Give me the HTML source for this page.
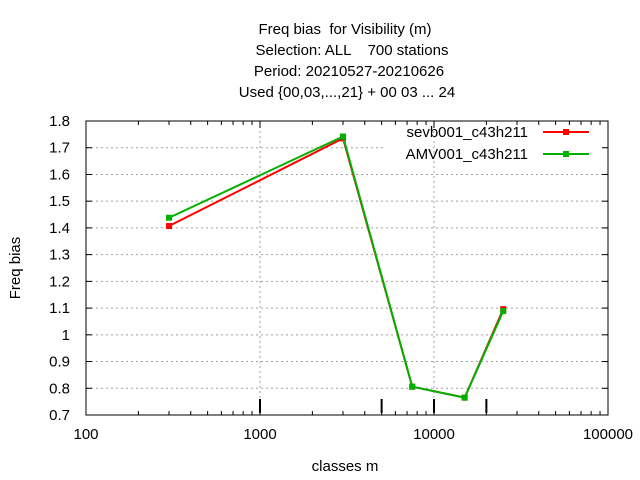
<!DOCTYPE html>
<html><head><meta charset="utf-8"><style>
body{margin:0;background:#fff;}
svg{display:block;font-family:"Liberation Sans",sans-serif;}
text{white-space:pre;}
</style></head><body>
<svg id="chart" width="640" height="480" xmlns="http://www.w3.org/2000/svg" xml:space="preserve">
<rect width="640" height="480" fill="#fff"/>
<g font-size="15" text-anchor="middle" fill="#000">
<text x="345" y="34">Freq bias  for Visibility (m)</text>
<text x="352" y="55">Selection: ALL    700 stations</text>
<text x="349" y="76">Period: 20210527-20210626</text>
<text x="347" y="97">Used {00,03,...,21} + 00 03 ... 24</text>
</g>
<g id="grid"></g>
<g id="axes"></g>
<g id="series"></g>
<text x="345" y="471" font-size="15" text-anchor="middle">classes m</text>
<text transform="translate(20,268) rotate(-90)" font-size="15" text-anchor="middle">Freq bias</text>
</svg>
<script>
const xValues=[300,3000,7500,15000,25000];
const redValues=[1.407,1.735,0.806,0.765,1.096];
const greenValues=[1.438,1.742,0.806,0.765,1.089];
const seriesNames=["sevb001_c43h211","AMV001_c43h211"];
const yTicks=[0.7,0.8,0.9,1,1.1,1.2,1.3,1.4,1.5,1.6,1.7,1.8];
const xTicks=[100,1000,10000,100000];
const classBounds=[1000,5000,10000,20000];
const L=86,R=608,T=121,B=415;
function X(v){return L+(Math.log10(v)-2)/3*(R-L);}
function Y(v){return B-(v-0.7)/1.1*(B-T);}
const NS="http://www.w3.org/2000/svg";
function mk(p,t,a){const e=document.createElementNS(NS,t);for(const k in a)e.setAttribute(k,a[k]);p.appendChild(e);return e;}
const grid=document.getElementById('grid'),axes=document.getElementById('axes'),ser=document.getElementById('series');
yTicks.forEach((v,i)=>{
 const y=Y(v);
 if(i>0&&i<yTicks.length-1){
  const x2=Math.abs(v-1.7)<1e-9?386:R;
  let g=mk(grid,'line',{x1:L,x2:x2,y1:y,y2:y,stroke:'#a0a0a0','stroke-dasharray':'2,3','stroke-width':1});
  
  
 }
 mk(axes,'line',{x1:L,x2:L+6,y1:y,y2:y,stroke:'#000'});
 mk(axes,'line',{x1:R-6,x2:R,y1:y,y2:y,stroke:'#000'});
 let t=mk(axes,'text',{x:70,y:y+5,'font-size':15,'text-anchor':'end'});
 t.textContent=String(v);
 
 
});
xTicks.forEach((v,i)=>{
 const x=X(v);
 if(i>0&&i<xTicks.length-1){
  let g=mk(grid,'line',{x1:x,x2:x,y1:T,y2:B,stroke:'#a0a0a0','stroke-dasharray':'2,3'});
  
  
 }
 let t=mk(axes,'text',{x:x,y:439,'font-size':15,'text-anchor':'middle'});
 t.textContent=String(v);
 
 
 if(i<3)for(let m=2;m<=9;m++){const xm=X(v*m);
  mk(axes,'line',{x1:xm,x2:xm,y1:B-4,y2:B,stroke:'#000'});
  mk(axes,'line',{x1:xm,x2:xm,y1:T,y2:T+4,stroke:'#000'});}
 mk(axes,'line',{x1:x,x2:x,y1:B-7,y2:B,stroke:'#000'});
 mk(axes,'line',{x1:x,x2:x,y1:T,y2:T+7,stroke:'#000'});
});
classBounds.forEach(v=>{const x=X(v);
 let c=mk(axes,'line',{x1:x,x2:x,y1:399,y2:413,stroke:'#000','stroke-width':2});
 
 
});
let box=mk(axes,'rect',{x:L,y:T,width:R-L,height:B-T,fill:'none',stroke:'#000'});


function drawSeries(vals,color,name,ly,label){
 const pts=vals.map((v,i)=>X(xValues[i])+','+Y(v)).join(' ');
 let pl=mk(ser,'polyline',{points:pts,fill:'none',stroke:color,'stroke-width':2});
 
 
 vals.forEach((v,i)=>{let r=mk(ser,'rect',{x:X(xValues[i])-3,y:Y(v)-3,width:6,height:6,fill:color});
  
  });
 let t=mk(ser,'text',{x:528,y:ly+5,'font-size':15,'text-anchor':'end'});
 t.textContent=label;
 
 
 let ll=mk(ser,'line',{x1:543,x2:589,y1:ly,y2:ly,stroke:color,'stroke-width':2});
 
 
 mk(ser,'rect',{x:563,y:ly-3,width:6,height:6,fill:color});
}
drawSeries(redValues,'#ff0000','red-series',132,seriesNames[0]);
drawSeries(greenValues,'#00b000','green-series',154,seriesNames[1]);
</script>
</body></html>
